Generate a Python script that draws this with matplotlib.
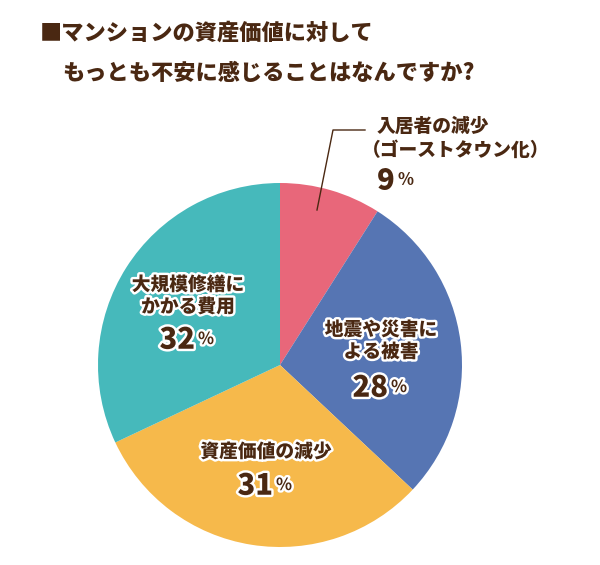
import matplotlib.pyplot as plt
import matplotlib.patheffects as pe

plt.rcParams['font.family'] = ['Noto Sans CJK JP', 'DejaVu Sans']

title_lines = ['■マンションの資産価値に対して', 'もっとも不安に感じることはなんですか?']
labels = ['入居者の減少\n（ゴーストタウン化）', '地震や災害に\nよる被害', '資産価値の減少', '大規模修繕に\nかかる費用']
values = [9, 28, 31, 32]
colors = ['#E8677A', '#5675B3', '#F6B94B', '#46B9BB']

brown = '#4A2812'
W, H = 600, 565
wt = 'heavy'

fig = plt.figure(figsize=(6, 5.65), dpi=100)
ax = fig.add_axes([0, 0, 1, 1])

cx, cy, r = 280, H - 365, 182
ax.pie(values, colors=colors, startangle=90, counterclock=False,
       center=(cx, cy), radius=r, wedgeprops=dict(linewidth=0))
ax.set_xlim(0, W)
ax.set_ylim(0, H)
ax.set_aspect('equal')
ax.axis('off')

# title
ax.text(40, H - 33, title_lines[0], fontsize=16, fontweight=wt, color=brown,
        ha='left', va='center')
ax.text(62, H - 73, title_lines[1], fontsize=16, fontweight=wt, color=brown,
        ha='left', va='center')

outline = [pe.withStroke(linewidth=3.5, foreground='white')]

# label positions in pixels (text centre x, first line y, number y)
spots = [
    (None, None, None),
    (381, 330, 388),
    (266, 452, 486),
    (188, 285, 340),
]

def draw_pct(x, y, v, effects):
    ax.text(x + 7, H - y, str(v), fontsize=21, fontweight=wt, color=brown,
            ha='right', va='center', path_effects=effects)
    ax.text(x + 10, H - y + 1, '%', fontsize=12, fontweight='bold', color=brown,
            ha='left', va='center', path_effects=effects)

for i in range(1, 4):
    x, y, ny = spots[i]
    for k, line in enumerate(labels[i].split('\n')):
        ax.text(x, H - (y + 22 * k), line, fontsize=13.5, fontweight=wt, color=brown,
                ha='center', va='center', path_effects=outline)
    draw_pct(x, ny, values[i], outline)

# first slice: outside label with leader line
ax.plot([317, 333, 365], [H - 210, H - 130, H - 130], color=brown, lw=1)
l1, l2 = labels[0].split('\n')
ax.text(377, H - 126, l1, fontsize=13.5, fontweight=wt, color=brown,
        ha='left', va='center')
ax.text(362, H - 150, l2, fontsize=13.5, fontweight=wt, color=brown,
        ha='left', va='center')
draw_pct(388, 181, values[0], None)

fig.savefig('out.png', dpi=100)
